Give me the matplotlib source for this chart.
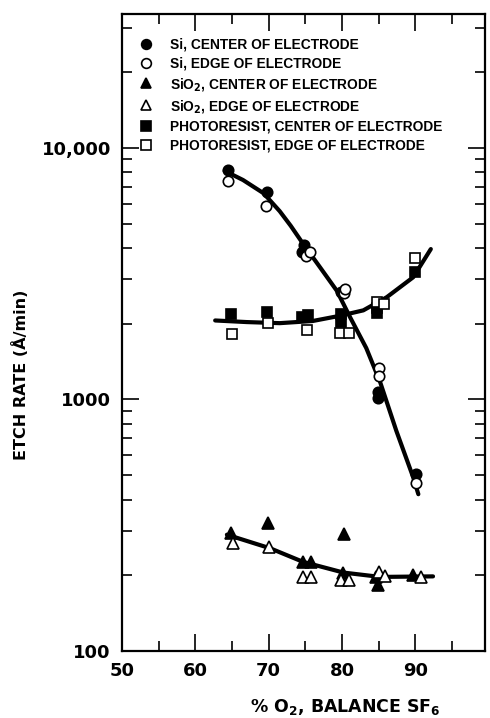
import matplotlib
matplotlib.use("Agg")
import matplotlib.pyplot as plt
from matplotlib.lines import Line2D

# measured points (% O2 vs etch rate, A/min)
si_center_x = [64.5, 69.8, 74.8, 74.6, 79.8, 84.9, 84.9, 90.1]
si_center_y = [8200, 6700, 4100, 3850, 2680, 1070, 1015, 505]
si_edge_x = [64.5, 69.6, 75.1, 75.6, 80.3, 80.4, 85.0, 85.0, 90.1]
si_edge_y = [7400, 5900, 3700, 3850, 2650, 2750, 1330, 1240, 465]

sio2_center_x = [64.9, 69.9, 74.7, 75.7, 80.3, 80.1, 84.9, 84.6, 89.7]
sio2_center_y = [295, 323, 226, 226, 291, 205, 183, 197, 200]
sio2_edge_x = [65.1, 70.0, 74.7, 75.8, 79.8, 80.9, 85.1, 85.9, 90.8]
sio2_edge_y = [268, 259, 197, 197, 192, 192, 207, 198, 196]

pr_center_x = [64.8, 69.8, 74.6, 75.4, 79.9, 79.9, 84.8, 84.8, 90.0]
pr_center_y = [2190, 2230, 2130, 2160, 2190, 2040, 2300, 2200, 3200]
pr_edge_x = [65.0, 69.9, 75.2, 79.7, 81.0, 84.8, 85.7, 90.0]
pr_edge_y = [1820, 2010, 1890, 1835, 1835, 2430, 2400, 3650]

# hand-drawn trend curves
si_fit_x = [64.0, 66.5, 69.3, 71.5, 73.0, 74.7, 77.0, 79.3, 81.1, 83.3, 85.2, 87.4, 89.7, 90.4]
si_fit_y = [8100, 7450, 6600, 5600, 4900, 4150, 3350, 2700, 2120, 1600, 1170, 750, 490, 420]
pr_fit_x = [62.7, 67.0, 71.5, 76.0, 79.7, 82.9, 86.1, 89.7, 92.1]
pr_fit_y = [2060, 2030, 2010, 2050, 2150, 2260, 2550, 3060, 3960]
sio2_fit_x = [64.3, 70.2, 74.7, 80.2, 85.2, 92.4]
sio2_fit_y = [290, 256, 226, 205, 197, 198]

legend_labels = [
    "Si, CENTER OF ELECTRODE",
    "Si, EDGE OF ELECTRODE",
    r"SiO$_\mathbf{2}$, CENTER OF ELECTRODE",
    r"SiO$_\mathbf{2}$, EDGE OF ELECTRODE",
    "PHOTORESIST, CENTER OF ELECTRODE",
    "PHOTORESIST, EDGE OF ELECTRODE",
]

plt.rcParams["font.family"] = ["Liberation Sans", "DejaVu Sans"]
plt.rcParams["font.weight"] = "bold"
plt.rcParams["mathtext.default"] = "bf"
plt.rcParams["mathtext.fontset"] = "dejavusans"

fig = plt.figure(figsize=(4.9, 7.18), dpi=100)
ax = fig.add_axes([0.249, 0.0933, 0.741, 0.887])

for fx, fy in [(si_fit_x, si_fit_y), (pr_fit_x, pr_fit_y), (sio2_fit_x, sio2_fit_y)]:
    ax.plot(fx, fy, color="black", lw=3, solid_capstyle="round", solid_joinstyle="round", zorder=2)

mk = dict(linestyle="none", color="black", mec="black", mew=1.2, zorder=3)
ax.plot(si_center_x, si_center_y, marker="o", ms=7.5, mfc="black", **mk)
ax.plot(si_edge_x, si_edge_y, marker="o", ms=7.5, mfc="white", **mk)
ax.plot(sio2_center_x, sio2_center_y, marker="^", ms=8, mfc="black", **mk)
ax.plot(sio2_edge_x, sio2_edge_y, marker="^", ms=8, mfc="white", **mk)
ax.plot(pr_center_x, pr_center_y, marker="s", ms=7, mfc="black", **mk)
ax.plot(pr_edge_x, pr_edge_y, marker="s", ms=7, mfc="white", **mk)

ax.set_yscale("log")
ax.set_xlim(50, 99.5)
ax.set_ylim(100, 34000)
ax.set_xticks([50, 60, 70, 80, 90])
ax.set_xticks([55, 65, 75, 85, 95], minor=True)
ax.set_yticks([100, 1000, 10000])
ax.set_yticklabels(["100", "1000", "10,000"])
ax.tick_params(which="both", direction="in", top=True, right=True, width=1.2)
ax.tick_params(which="major", length=12, labelsize=13, pad=8)
ax.tick_params(which="minor", length=7, labelbottom=False, labelleft=False)
for lab in ax.get_xticklabels() + ax.get_yticklabels():
    lab.set_family("DejaVu Sans")
    lab.set_weight("bold")
for s in ax.spines.values():
    s.set_linewidth(1.6)

ax.set_xlabel(r"% O$_\mathbf{2}$, BALANCE SF$_\mathbf{6}$", fontsize=12.5,
              fontweight="bold", family="DejaVu Sans")
ax.xaxis.set_label_coords(0.614, -0.072)
ax.set_ylabel("ETCH RATE (Å/min)", fontsize=11.5, fontweight="bold", family="DejaVu Sans")
ax.yaxis.set_label_coords(-0.255, 0.433)

handles = [
    Line2D([], [], marker="o", ms=7, mfc="black", **mk),
    Line2D([], [], marker="o", ms=7, mfc="white", **mk),
    Line2D([], [], marker="^", ms=7.5, mfc="black", **mk),
    Line2D([], [], marker="^", ms=7.5, mfc="white", **mk),
    Line2D([], [], marker="s", ms=6.5, mfc="black", **mk),
    Line2D([], [], marker="s", ms=6.5, mfc="white", **mk),
]
ax.legend(handles, legend_labels, loc="upper left", bbox_to_anchor=(0.025, 0.978),
          frameon=False, handlelength=0.8, handletextpad=1.3, labelspacing=0.36,
          borderaxespad=0.3, prop=dict(size=9.9, weight="bold"))

fig.savefig("out.png", dpi=100)
